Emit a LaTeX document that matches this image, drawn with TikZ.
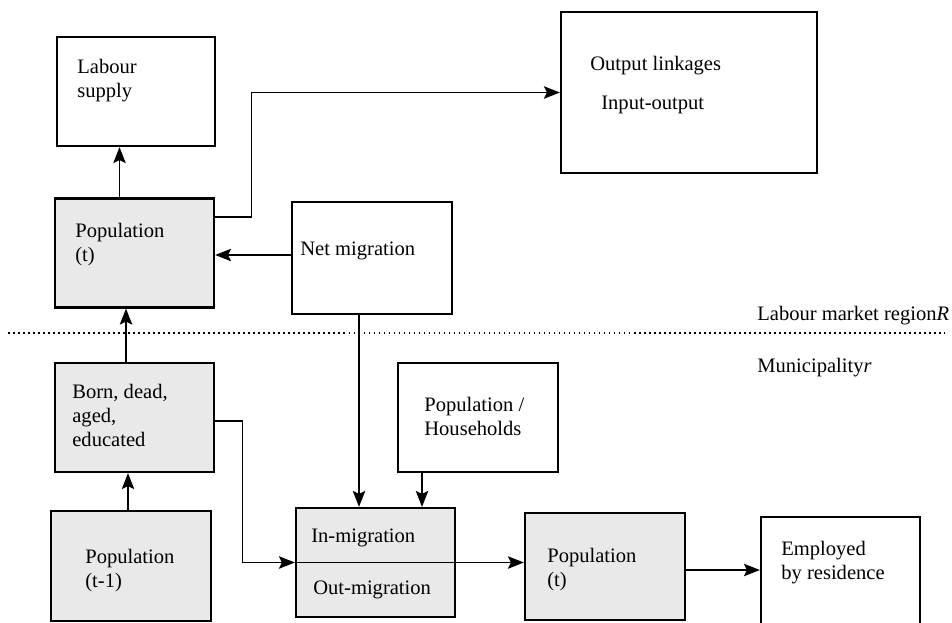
\documentclass[tikz,border=0pt]{standalone}
\usepackage{fontspec}
\setmainfont{Liberation Serif}
\usetikzlibrary{arrows.meta, calc, positioning}
\definecolor{boxgray}{RGB}{233,233,233}

\begin{document}
\begin{tikzpicture}[x=0.02cm, y=-0.02cm,
    box/.style={draw, line width=1.3pt, inner sep=0pt, minimum width=3.18cm, minimum height=2.18cm},
    shaded/.style={box, fill=boxgray},
    txt/.style={anchor=north west, inner sep=0pt, align=left, font=\fontsize{11.7}{13.6}\selectfont},
    side/.style={anchor=base west, inner sep=0pt, font=\fontsize{11.7}{13.6}\selectfont},
    arr/.style={-{Stealth[length=0.32cm, width=0.25cm, inset=0.06cm]}, line width=0.7pt},
    link/.style={line width=0.7pt}]
    \useasboundingbox (0,0) rectangle (952,622);

    % upper part: labour market region
    \node[box, minimum width=3.16cm] (lab) at (136,91.5) {};
    \node[box, minimum width=5.12cm, minimum height=3.22cm] (out) at (689,92.5) {};
    \node[shaded] (popt) at (134.5,253) {};
    \node[box, minimum width=3.2cm, minimum height=2.24cm] (net) at (372,258) {};

    % lower part: municipality
    \node[shaded] (born) at (134.5,417.5) {};
    \node[box, minimum width=3.2cm] (hh) at (478,417.5) {};
    \node[shaded, minimum width=3.2cm, minimum height=2.2cm] (prev) at (131,566) {};
    \node[shaded] (mig) at (375.5,562.5) {};
    \node[shaded, minimum width=3.2cm, minimum height=2.14cm] (popr) at (605,566.5) {};
    \node[box] (emp) at (840.5,571.5) {};

    \node[txt] (labtxt) at (77,59) {Labour\\supply};
    \node[txt] (outtxt) at (590,56) {Output linkages};
    \node[txt] (iotxt) at (601,96) {Input-output};
    \node[txt] (popttxt) at (75,223) {Population\\(t)};
    \node[txt] (nettxt) at (300,242) {Net migration};
    \node[txt] (borntxt) at (72,384) {Born, dead,\\aged,\\educated};
    \node[txt] (hhtxt) at (424,397) {Population /\\Households};
    \node[txt] (prevtxt) at (85,549) {Population\\(t-1)};
    \node[txt] (intxt) at (311,529) {In-migration};
    \node[txt] (outmtxt) at (313,581) {Out-migration};
    \node[txt] (poprtxt) at (547,548) {Population\\(t)};
    \node[txt] (emptxt) at (781,541) {Employed\\by residence};

    % border between the two levels
    \draw[line width=0.9pt, dash pattern=on 0.9pt off 1.95pt] (8,333) -- (945,333);
    \node[side] (region) at (757,320) {Labour market region\textit{R}};
    \node[side] (muni) at (757,372) {Municipality\textit{r}};

    % connectors
    \draw[link] (mig.west) -- (mig.east);
    \draw[arr] ([xshift=-0.3cm]popt.north) -- ([xshift=-0.3cm]popt.north |- lab.south);
    \draw[arr] ([yshift=0.72cm]popt.east) -- ++(36,0) |- (out.west);
    \draw[arr] ([yshift=0.06cm]net.west) -- ([yshift=0.06cm]net.west -| popt.east);
    \draw[arr] ([xshift=-0.26cm]net.south) -- ([xshift=-0.26cm]net.south |- mig.north);
    \draw[arr] ([xshift=-1.12cm]hh.south) -- ([xshift=-1.12cm]hh.south |- mig.north);
    \draw[arr] ([xshift=-0.06cm]prev.north) -- ([xshift=-0.06cm]prev.north |- born.south);
    \draw[arr] ([xshift=-0.17cm]born.north) -- ([xshift=-0.17cm]born.north |- popt.south);
    \draw[arr] ([yshift=-0.07cm]born.east) -- ++(27,0) |- (mig.west);
    \draw[arr] (mig.east) -- (mig.east -| popr.west);
    \draw[arr] ([yshift=-0.07cm]popr.east) -- ([yshift=-0.07cm]popr.east -| emp.west);
\end{tikzpicture}
\end{document}
